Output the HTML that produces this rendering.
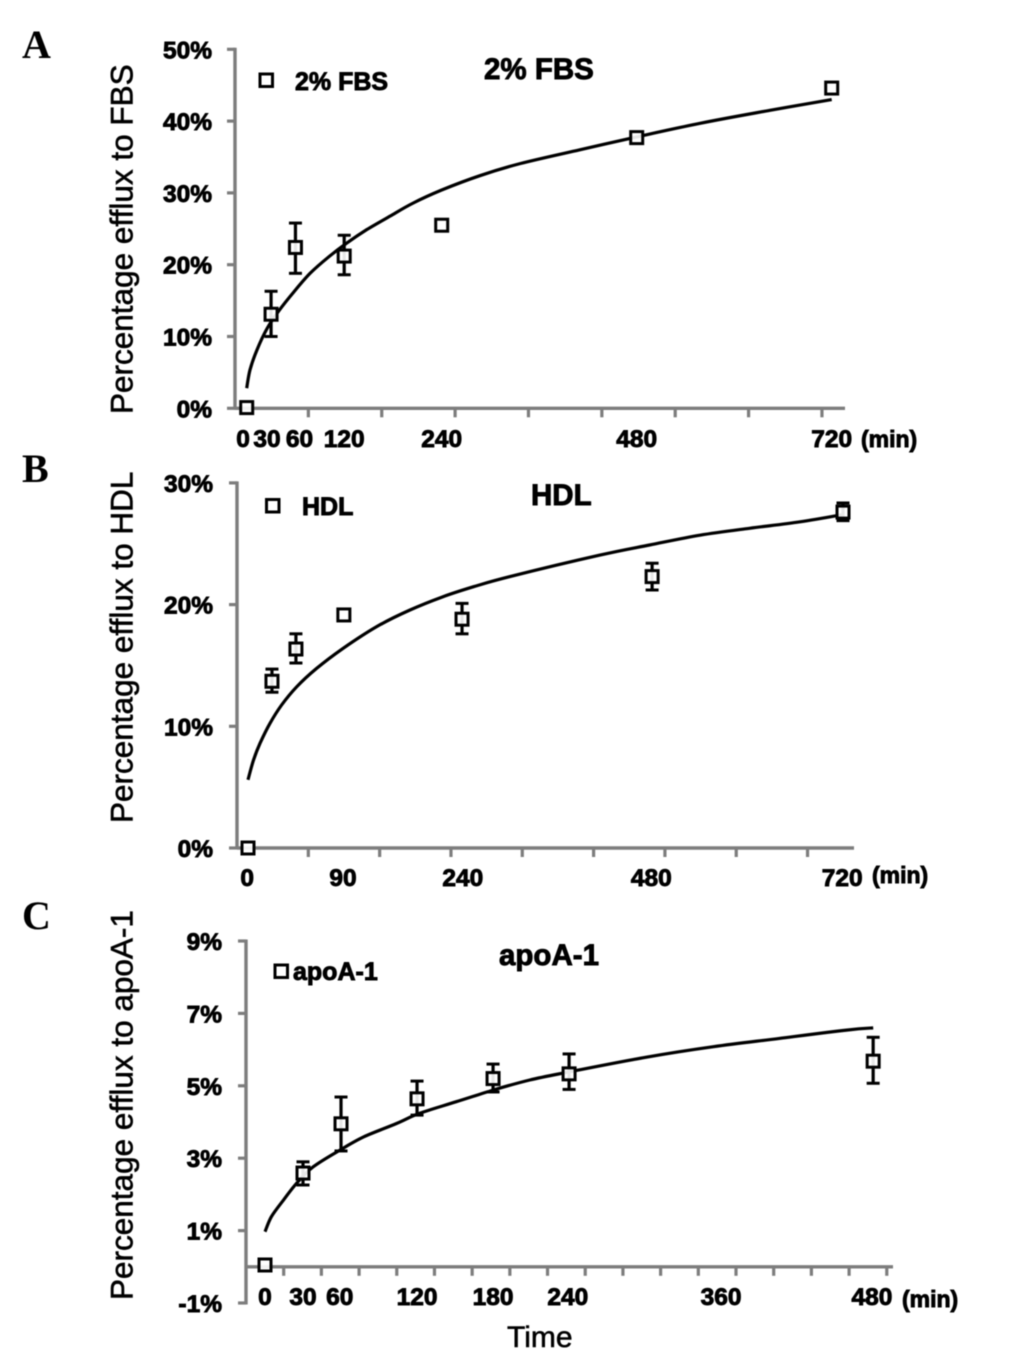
<!DOCTYPE html>
<html lang="en">
<head>
<meta charset="utf-8">
<title>Percentage efflux over time</title>
<style>
html,body{margin:0;padding:0;background:#fff;width:1033px;height:1360px;overflow:hidden}
svg{display:block;position:absolute;left:0;top:0;filter:blur(0.45px)}
text{font-family:"Liberation Sans",Arial,sans-serif;fill:#000}
.b{font-weight:bold;stroke:#000;stroke-width:.9px}
.tick{font-size:24.5px}
.ytitle{font-size:31.5px;stroke:#000;stroke-width:.55px}
.letter{font-family:"Liberation Serif",serif;font-weight:bold;font-size:40px}
.unit{font-size:23px}
.ctitle{font-size:29.5px}
.leg{font-size:25px}
</style>
</head>
<body>
<svg id="figure" width="1033" height="1360" viewBox="0 0 1033 1360" xmlns="http://www.w3.org/2000/svg">
  <rect x="0" y="0" width="1033" height="1360" fill="#fff"/>

  <text class="letter" x="22" y="58">A</text>
  <text class="letter" x="22" y="482">B</text>
  <text class="letter" x="22" y="929">C</text>

  <text class="ytitle" transform="translate(132.5 414) rotate(-90)">Percentage efflux to FBS</text>
  <text class="ytitle" transform="translate(132.5 823) rotate(-90)">Percentage efflux to HDL</text>
  <text class="ytitle" transform="translate(132.5 1300) rotate(-90)">Percentage efflux to apoA-1</text>

  <text class="b ctitle" x="484" y="79">2% FBS</text>
  <text class="b ctitle" x="531" y="505">HDL</text>
  <text class="b ctitle" x="499" y="965">apoA-1</text>

  <g>
    <rect x="260" y="74" width="12.5" height="12.5" fill="#fff" stroke="#000" stroke-width="3"/>
    <text class="b leg" x="295" y="90">2% FBS</text>
  </g>
  <g>
    <rect x="266.5" y="499.5" width="12.5" height="12.5" fill="#fff" stroke="#000" stroke-width="3"/>
    <text class="b leg" x="302" y="515">HDL</text>
  </g>
  <g>
    <rect x="275" y="965" width="12.5" height="12.5" fill="#fff" stroke="#000" stroke-width="3"/>
    <text class="b leg" x="293" y="980">apoA-1</text>
  </g>

  <text class="b unit" x="861" y="447">(min)</text>
  <text class="b unit" x="872" y="883">(min)</text>
  <text class="b unit" x="902" y="1307">(min)</text>
  <text class="ytitle" x="507" y="1347" style="font-size:30px">Time</text>
</svg>

<script>
// ---------- Panel A: 2% FBS ----------
const timesA = [0, 30, 60, 120, 240, 480, 720];
const valuesA = [0.1, 13.1, 22.4, 21.2, 25.5, 37.7, 44.6];
const errTopA = [0.1, 16.3, 25.8, 24.1, 25.5, 37.7, 44.6];
const errBottomA = [0.1, 10, 18.8, 18.6, 25.5, 37.7, 44.6];
const curveTimesA = [0, 4, 12.5, 25, 39, 58, 78, 101, 123, 148, 177, 205, 240, 287, 337, 410, 480, 558, 644, 720];
const curveValuesA = [2.8, 5.3, 8.1, 11.1, 13.5, 16.2, 18.8, 21.1, 23, 24.9, 26.8, 28.6, 30.4, 32.4, 34.1, 36, 37.8, 39.7, 41.5, 43];
const yTicksA = [0, 10, 20, 30, 40, 50];
const yLabelsA = ['0%', '10%', '20%', '30%', '40%', '50%'];
const xLabelsA = ['0', '30', '60', '120', '240', '480', '720'];
const xLabelTimesA = [-4.5, 25, 65, 120, 240, 480, 720];

// ---------- Panel B: HDL ----------
const timesB = [0, 29, 58, 116, 259, 489, 720];
const valuesB = [0, 13.7, 16.35, 19.15, 18.8, 22.3, 27.6];
const errTopB = [0, 14.7, 17.6, 19.15, 20.1, 23.4, 28.35];
const errBottomB = [0, 12.8, 15.2, 19.15, 17.6, 21.2, 26.9];
const curveTimesB = [0, 6.5, 14.5, 26.6, 40.7, 59, 83, 115, 156, 196, 236, 273, 317, 426, 486, 547, 607, 668, 720];
const curveValuesB = [5.6, 7.2, 8.6, 10.25, 11.75, 13.25, 14.76, 16.4, 18.2, 19.56, 20.65, 21.47, 22.3, 24.07, 24.9, 25.7, 26.27, 26.8, 27.4];
const yTicksB = [0, 10, 20, 30];
const yLabelsB = ['0%', '10%', '20%', '30%'];
const xLabelsB = ['0', '90', '240', '480', '720'];
const xLabelTimesB = [-1, 115, 260, 488, 719];

// ---------- Panel C: apoA-1 ----------
const timesC = [0, 30, 60, 120, 180, 240, 480];
const valuesC = [0.05, 2.59, 3.95, 4.64, 5.2, 5.33, 5.68];
const errTopC = [0.05, 2.9, 4.69, 5.13, 5.6, 5.88, 6.34];
const errBottomC = [0.05, 2.26, 3.2, 4.19, 4.83, 4.9, 5.07];
const curveTimesC = [0, 5, 14.5, 25, 38, 59, 78, 104, 122, 151, 180, 209, 241, 301, 354, 406, 459, 480];
const curveValuesC = [0.97, 1.38, 1.84, 2.31, 2.76, 3.22, 3.59, 3.96, 4.24, 4.56, 4.88, 5.16, 5.39, 5.79, 6.08, 6.31, 6.54, 6.6];
const yTicksC = [-1, 1, 3, 5, 7, 9];
const yLabelsC = ['-1%', '1%', '3%', '5%', '7%', '9%'];
const xLabelsC = ['0', '30', '60', '120', '180', '240', '360', '480'];
const xLabelTimesC = [0, 30, 59, 120, 180, 239, 360, 479];

const NS = 'http://www.w3.org/2000/svg';
const fig = document.getElementById('figure');
const AXIS = '#7d7d7d';

function line(parent, x1, y1, x2, y2, color, width) {
  const l = document.createElementNS(NS, 'line');
  l.setAttribute('x1', x1);
  l.setAttribute('y1', y1);
  l.setAttribute('x2', x2);
  l.setAttribute('y2', y2);
  l.setAttribute('stroke', color);
  l.setAttribute('stroke-width', width);
  parent.appendChild(l);
  return l;
}

function label(parent, x, y, str, anchor) {
  const t = document.createElementNS(NS, 'text');
  t.setAttribute('x', x);
  t.setAttribute('y', y);
  t.setAttribute('class', 'b tick');
  t.setAttribute('text-anchor', anchor);
  t.textContent = str;
  parent.appendChild(t);
  return t;
}

// Smooth path through the read curve points (Catmull-Rom to Bezier).
function smoothPath(pts) {
  let d = 'M' + pts[0][0].toFixed(1) + ' ' + pts[0][1].toFixed(1);
  for (let i = 0; i < pts.length - 1; i++) {
    const p0 = pts[Math.max(i - 1, 0)];
    const p1 = pts[i];
    const p2 = pts[i + 1];
    const p3 = pts[Math.min(i + 2, pts.length - 1)];
    const c1x = p1[0] + (p2[0] - p0[0]) / 6;
    const c1y = p1[1] + (p2[1] - p0[1]) / 6;
    const c2x = p2[0] - (p3[0] - p1[0]) / 6;
    const c2y = p2[1] - (p3[1] - p1[1]) / 6;
    d += 'C' + c1x.toFixed(1) + ' ' + c1y.toFixed(1) + ' ' + c2x.toFixed(1) + ' ' + c2y.toFixed(1) + ' ' + p2[0].toFixed(1) + ' ' + p2[1].toFixed(1);
  }
  return d;
}

function drawPanel(p) {
  const xs = t => p.x0 + p.kx * t;
  const ys = v => p.y0 - p.ky * v;

  const g = document.createElementNS(NS, 'g');
  
  
  fig.appendChild(g);

  // y axis
  const yMin = Math.min.apply(null, p.yTicks);
  const yMax = Math.max.apply(null, p.yTicks);
  const yAxis = line(g, p.axisX, ys(yMax) - 1.5, p.axisX, ys(yMin) + 1.5, AXIS, 3.4);
  
  

  p.yTicks.forEach(function (v, i) {
    const tk = line(g, p.axisX - 8, ys(v), p.axisX, ys(v), AXIS, 3.2);
    
    
    const lb = label(g, p.yLabelRight, ys(v) + 9, p.yLabels[i], 'end');
    
    
  });

  // x axis
  const xAxis = line(g, p.axisX, ys(0), p.xEnd, ys(0), AXIS, 3.4);
  
  

  for (let t = p.tickStart + p.tickStep; xs(t) <= p.xEnd + 1; t += p.tickStep) {
    const tk = line(g, xs(t), ys(0), xs(t), ys(0) + 9, AXIS, 3.2);
    
    
  }

  p.xLabels.forEach(function (s, i) {
    const lb = label(g, xs(p.xLabelTimes[i]), p.xLabelY, s, 'middle');
    
    
  });

  // fitted curve
  const curve = document.createElementNS(NS, 'path');
  
  
  curve.setAttribute('d', smoothPath(p.curveTimes.map(function (t, i) {
    return [xs(t), ys(p.curveValues[i])];
  })));
  curve.setAttribute('fill', 'none');
  curve.setAttribute('stroke', '#000');
  curve.setAttribute('stroke-width', '3.2');
  curve.setAttribute('stroke-linejoin', 'round');
  g.appendChild(curve);

  // error bars and markers
  p.times.forEach(function (t, i) {
    const cx = xs(t);
    const top = p.errTop[i];
    const bottom = p.errBottom[i];
    if (top !== bottom) {
      const stem = line(g, cx, ys(top), cx, ys(bottom), '#000', 3.2);
      
      
      const capT = line(g, cx - 6.5, ys(top), cx + 6.5, ys(top), '#000', 3);
      
      
      const capB = line(g, cx - 6.5, ys(bottom), cx + 6.5, ys(bottom), '#000', 3);
      
      
    }
    const m = document.createElementNS(NS, 'rect');
    
    
    m.setAttribute('x', cx - 6);
    m.setAttribute('y', ys(p.values[i]) - 6);
    m.setAttribute('width', 12);
    m.setAttribute('height', 12);
    m.setAttribute('fill', '#fff');
    m.setAttribute('fill-opacity', '0.9');
    m.setAttribute('stroke', '#000');
    m.setAttribute('stroke-width', '3');
    g.appendChild(m);
  });
}

drawPanel({
  name: 'chart-fbs', x0: 246.7, kx: 0.8125, y0: 408.3, ky: 7.18,
  axisX: 235, xEnd: 845, yLabelRight: 212, xLabelY: 447, tickStart: -14.4, tickStep: 90.3,
  times: timesA, values: valuesA, errTop: errTopA, errBottom: errBottomA,
  curveTimes: curveTimesA, curveValues: curveValuesA,
  yTicks: yTicksA, yLabels: yLabelsA, xLabels: xLabelsA, xLabelTimes: xLabelTimesA
});
drawPanel({
  name: 'chart-hdl', x0: 248, kx: 0.8264, y0: 848, ky: 12.17,
  axisX: 237, xEnd: 854, yLabelRight: 213, xLabelY: 886, tickStart: -13.3, tickStep: 86.3,
  times: timesB, values: valuesB, errTop: errTopB, errBottom: errBottomB,
  curveTimes: curveTimesB, curveValues: curveValuesB,
  yTicks: yTicksB, yLabels: yLabelsB, xLabels: xLabelsB, xLabelTimes: xLabelTimesB
});
drawPanel({
  name: 'chart-apoa1', x0: 265, kx: 1.267, y0: 1266.8, ky: 36.2,
  axisX: 246, xEnd: 893, yLabelRight: 222, xLabelY: 1305, tickStart: -15, tickStep: 29.75,
  times: timesC, values: valuesC, errTop: errTopC, errBottom: errBottomC,
  curveTimes: curveTimesC, curveValues: curveValuesC,
  yTicks: yTicksC, yLabels: yLabelsC, xLabels: xLabelsC, xLabelTimes: xLabelTimesC
});
</script>
</body>
</html>
